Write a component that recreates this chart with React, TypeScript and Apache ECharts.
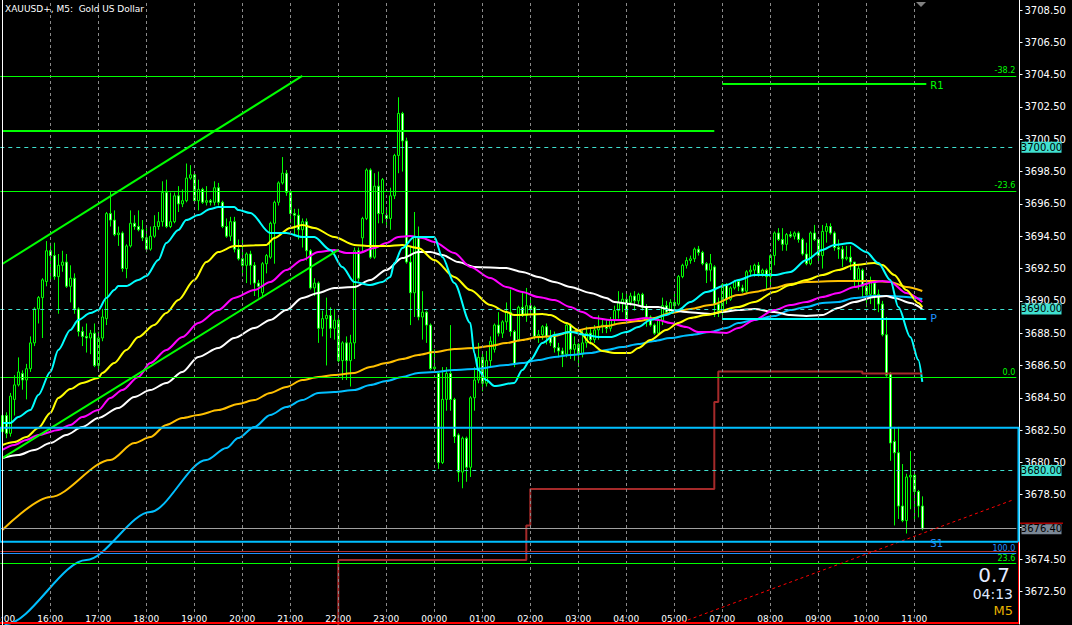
import React, { useEffect, useRef } from 'react';
import * as echarts from 'echarts';

// ---------- time axis ----------
const HOUR_LABELS = ['15:00','16:00','17:00','18:00','19:00','20:00','21:00','22:00','23:00','00:00','01:00','02:00','03:00','04:00','05:00','07:00','08:00','09:00','10:00','11:00'];
const BARS_PER_HOUR = 12;
const SLOT_COUNT = 254;

// ---------- candles (M5) ----------
const OPEN = [3682.4,3683.4,3682.3,3684.4,3685.3,3686.0,3685.6,3686.3,3687.9,3690.0,
3690.7,3691.7,3693.6,3693.3,3692.0,3692.7,3692.9,3691.4,3691.9,3690.0,
3688.6,3688.3,3688.2,3688.5,3686.5,3688.2,3689.4,3695.9,3695.5,3694.6,
3694.7,3692.5,3693.9,3695.3,3695.1,3694.9,3694.4,3693.7,3694.5,3695.1,
3695.4,3697.2,3695.1,3695.4,3697.0,3696.5,3696.7,3698.1,3698.3,3696.7,
3697.4,3696.6,3696.7,3696.6,3697.5,3696.6,3695.1,3694.5,3695.4,3693.7,
3693.1,3692.7,3693.4,3692.7,3691.6,3691.0,3692.8,3693.2,3695.3,3696.6,
3697.8,3698.4,3697.2,3695.9,3695.8,3694.9,3695.4,3693.6,3691.3,3691.6,
3688.8,3689.4,3689.6,3688.8,3689.3,3686.8,3687.9,3686.8,3687.9,3693.6,
3694.4,3695.6,3698.6,3693.2,3697.6,3695.9,3695.8,3695.6,3697.0,3699.5,
3702.1,3700.4,3692.9,3691.0,3694.4,3689.5,3689.8,3689.0,3686.3,3686.0,
3680.5,3684.4,3686.0,3684.4,3682.2,3679.9,3682.0,3680.2,3684.5,3685.6,
3687.0,3685.4,3686.8,3687.5,3689.0,3688.5,3689.2,3689.8,3688.6,3688.1,
3690.1,3689.6,3690.2,3690.1,3688.3,3688.4,3688.9,3688.3,3688.4,3687.6,
3687.4,3687.2,3689.0,3687.5,3687.8,3687.2,3687.9,3688.5,3688.1,3688.7,
3688.9,3689.0,3688.8,3689.3,3689.9,3690.4,3690.6,3690.4,3690.8,3690.5,
3690.9,3690.1,3689.5,3689.0,3688.5,3689.3,3690.2,3689.8,3690.4,3690.3,
3692.0,3692.7,3693.0,3693.1,3693.7,3693.5,3692.8,3692.4,3692.6,3690.3,
3689.9,3691.5,3690.6,3691.3,3691.7,3691.3,3691.1,3692.3,3692.4,3692.7,
3692.2,3692.4,3692.0,3693.3,3694.7,3694.3,3694.0,3694.6,3694.5,3694.7,
3694.3,3693.4,3692.8,3694.7,3694.3,3693.3,3694.8,3695.1,3694.7,3693.8,
3693.7,3693.1,3693.2,3692.9,3691.8,3692.4,3691.4,3690.9,3691.6,3690.9,
3690.3,3688.4,3686.0,3681.8,3681.1,3677.8,3676.9,3679.6,3679.7,3678.7,
3677.8];
const HIGH = [3683.6,3683.6,3684.8,3685.9,3687.0,3686.2,3686.6,3688.3,3690.1,3690.8,
3691.9,3694.2,3694.1,3694.1,3693.4,3693.6,3693.4,3692.7,3692.2,3690.1,
3688.9,3689.1,3688.7,3689.1,3688.6,3690.0,3696.0,3697.3,3696.1,3695.1,
3694.8,3694.0,3696.1,3695.8,3696.1,3695.5,3695.0,3695.1,3695.8,3696.0,
3697.9,3698.0,3697.2,3697.2,3697.6,3697.4,3699.0,3698.9,3698.4,3698.0,
3697.5,3697.6,3696.8,3697.9,3697.8,3696.7,3695.6,3695.7,3695.7,3694.3,
3694.4,3693.5,3693.6,3692.9,3691.8,3692.9,3693.4,3695.4,3696.7,3697.9,
3699.4,3698.6,3697.4,3696.2,3696.2,3695.6,3695.6,3693.7,3691.9,3691.7,
3689.9,3690.7,3690.1,3690.0,3689.5,3688.0,3688.3,3688.4,3693.8,3693.8,
3695.7,3698.7,3698.7,3698.4,3698.5,3698.1,3696.3,3697.5,3699.6,3703.1,
3702.2,3700.6,3693.9,3696.0,3695.1,3691.1,3689.9,3689.1,3687.5,3686.1,
3686.4,3686.4,3689.0,3684.5,3682.3,3682.1,3682.1,3684.6,3686.4,3687.9,
3687.3,3687.4,3688.3,3689.1,3689.8,3689.3,3690.4,3691.2,3688.7,3690.2,
3691.0,3691.3,3690.6,3690.2,3688.7,3689.0,3689.1,3688.7,3688.6,3687.9,
3687.6,3689.1,3689.1,3688.3,3687.9,3688.7,3688.9,3688.8,3689.0,3689.6,
3689.4,3689.3,3689.5,3690.2,3691.1,3691.0,3691.1,3691.0,3691.1,3691.0,
3691.0,3690.3,3689.6,3689.1,3689.4,3690.7,3690.5,3690.6,3691.1,3692.1,
3692.8,3693.2,3693.3,3693.8,3693.9,3693.6,3692.9,3693.4,3692.7,3690.7,
3691.6,3691.6,3691.4,3691.8,3691.8,3691.5,3692.4,3692.7,3692.8,3692.9,
3692.5,3692.5,3693.4,3694.8,3695.0,3695.0,3694.7,3694.8,3694.8,3694.8,
3694.4,3694.1,3694.8,3695.2,3694.4,3695.2,3695.3,3695.3,3694.8,3694.3,
3693.9,3693.9,3693.9,3692.9,3692.7,3692.5,3691.7,3692.0,3691.7,3691.2,
3690.5,3689.5,3686.1,3682.7,3682.7,3680.4,3679.8,3681.2,3680.0,3678.8,
3678.4];
const LOW = [3681.8,3682.0,3682.1,3683.4,3685.2,3685.0,3684.4,3686.1,3687.7,3689.1,
3688.2,3691.4,3691.8,3691.8,3689.7,3692.3,3691.3,3690.4,3689.7,3688.3,
3687.7,3687.3,3687.2,3686.4,3686.1,3688.0,3689.0,3695.1,3694.5,3693.9,
3692.3,3691.9,3693.8,3694.9,3694.8,3694.2,3693.5,3693.6,3694.4,3694.9,
3695.1,3695.0,3695.0,3695.3,3696.0,3696.3,3696.6,3698.0,3696.5,3696.1,
3696.5,3696.4,3696.4,3696.4,3696.4,3695.0,3694.4,3694.2,3693.5,3693.0,
3692.0,3691.6,3691.5,3690.8,3690.7,3690.7,3692.2,3693.1,3692.8,3696.4,
3697.7,3697.0,3695.3,3694.5,3694.3,3693.8,3693.0,3691.2,3690.8,3687.9,
3688.3,3686.5,3688.2,3688.1,3686.7,3685.6,3685.6,3685.2,3686.9,3691.7,
3693.5,3695.5,3693.1,3693.1,3695.3,3695.3,3695.2,3694.9,3696.8,3698.4,
3698.5,3692.8,3689.0,3689.5,3689.3,3688.1,3687.9,3686.2,3686.1,3680.1,
3680.4,3683.7,3683.7,3681.7,3679.3,3678.9,3679.3,3679.6,3683.7,3685.4,
3684.9,3685.2,3686.4,3687.3,3688.3,3688.2,3688.7,3688.3,3686.4,3688.0,
3689.5,3689.2,3689.7,3688.1,3687.9,3688.1,3687.8,3687.7,3687.3,3687.0,
3686.4,3687.0,3686.9,3686.8,3686.4,3687.0,3687.6,3687.8,3687.9,3688.1,
3688.5,3688.5,3688.6,3689.0,3689.4,3689.8,3689.2,3690.2,3689.9,3690.3,
3689.9,3688.9,3688.9,3688.4,3688.4,3689.0,3689.6,3689.7,3689.8,3690.2,
3691.9,3692.5,3692.8,3692.9,3693.3,3692.7,3691.6,3691.7,3689.5,3689.5,
3689.3,3690.3,3690.5,3691.2,3691.1,3691.0,3691.0,3692.0,3692.0,3692.0,
3692.0,3691.2,3691.4,3692.7,3694.2,3693.6,3693.6,3694.4,3694.3,3694.1,
3693.3,3692.7,3692.7,3694.2,3692.9,3692.5,3694.1,3694.6,3693.6,3693.1,
3692.6,3693.0,3692.4,3691.4,3691.2,3690.7,3690.1,3690.3,3689.9,3689.8,
3688.3,3685.8,3680.6,3676.6,3677.0,3676.8,3676.1,3677.6,3676.9,3677.1,
3676.3];
const CLOSE = [3683.4,3682.3,3684.6,3685.3,3686.1,3685.6,3686.3,3687.9,3690.0,3690.7,
3691.8,3693.6,3693.3,3692.0,3692.7,3692.9,3691.4,3691.9,3690.0,3688.6,
3688.3,3688.2,3688.5,3686.5,3688.2,3689.5,3695.9,3695.5,3694.6,3694.7,
3692.5,3693.9,3695.3,3695.1,3694.9,3694.4,3693.7,3694.5,3695.1,3695.4,
3697.2,3695.1,3695.4,3697.0,3696.5,3696.7,3698.1,3698.3,3696.7,3697.4,
3696.6,3696.7,3696.6,3697.5,3696.6,3695.1,3694.5,3695.4,3693.7,3693.1,
3692.7,3693.4,3692.7,3691.6,3691.4,3692.8,3693.3,3695.3,3696.6,3697.8,
3698.4,3697.2,3695.9,3695.8,3694.9,3695.4,3693.6,3691.3,3691.6,3688.8,
3689.4,3689.6,3688.8,3689.3,3686.8,3687.9,3686.8,3687.9,3693.6,3691.9,
3695.6,3698.6,3693.2,3697.6,3695.9,3698.0,3695.6,3697.0,3699.5,3702.1,
3700.4,3692.9,3691.0,3694.5,3689.5,3689.8,3689.0,3686.3,3686.4,3680.5,
3684.4,3686.0,3684.4,3682.1,3679.9,3682.0,3680.2,3684.5,3685.6,3687.0,
3685.4,3686.8,3688.0,3689.0,3688.5,3689.2,3689.8,3688.6,3686.6,3690.1,
3689.6,3690.2,3690.0,3688.3,3688.4,3688.9,3688.3,3687.9,3687.6,3687.4,
3687.2,3689.0,3687.5,3687.8,3687.2,3687.9,3688.5,3688.1,3688.7,3688.9,
3689.0,3688.8,3689.3,3689.9,3690.4,3690.6,3689.3,3690.8,3690.5,3690.9,
3690.1,3689.5,3689.0,3688.5,3689.3,3690.2,3689.8,3690.4,3690.2,3692.0,
3692.7,3693.0,3693.1,3693.7,3693.5,3692.8,3692.4,3692.8,3690.3,3689.9,
3691.5,3690.6,3691.3,3691.7,3691.4,3691.1,3692.3,3692.4,3692.7,3692.2,
3692.4,3692.0,3693.3,3694.7,3694.3,3694.0,3694.6,3694.5,3694.7,3694.3,
3693.4,3692.8,3694.7,3694.3,3693.3,3694.8,3695.1,3694.7,3693.8,3693.7,
3693.1,3693.2,3692.9,3691.8,3692.5,3691.4,3690.9,3691.7,3690.9,3690.3,
3688.4,3685.9,3681.7,3681.1,3677.8,3676.9,3679.6,3679.7,3678.7,3677.8,
3676.4];

// ---------- moving averages: [bar index, price] ----------
const MA_AQUA = [[0,3682.94],[2,3682.94],[4,3683.31],[7,3683.74],[9,3684.67],[12,3686.10],[14,3687.46],[17,3688.70],[19,3689.32],[22,3689.75],[24,3689.93],[26,3690.68],[28,3691.17],[29,3691.42],[31,3691.42],[34,3691.79],[36,3692.04],[39,3693.03],[41,3694.08],[44,3694.88],[46,3695.50],[49,3695.81],[52,3696.19],[54,3696.31],[58,3696.31],[59,3696.12],[62,3695.94],[67,3694.70],[71,3694.70],[75,3694.45],[78,3694.45],[82,3693.65],[85,3692.60],[88,3691.67],[92,3691.48],[95,3691.67],[97,3691.98],[98,3692.84],[100,3693.77],[103,3694.45],[108,3694.45],[110,3693.21],[113,3691.60],[117,3689.13],[118,3687.27],[119,3686.22],[121,3685.60],[123,3685.23],[128,3685.42],[130,3686.22],[132,3686.84],[135,3687.89],[138,3688.39],[142,3688.57],[146,3688.39],[149,3688.26],[152,3688.26],[156,3688.57],[159,3688.88],[162,3689.32],[166,3689.63],[169,3689.93],[172,3690.43],[176,3691.05],[181,3691.48],[184,3691.79],[188,3692.10],[193,3692.10],[197,3692.29],[201,3693.03],[205,3693.65],[208,3693.96],[212,3694.08],[216,3693.52],[219,3692.84],[222,3691.79],[224,3690.12],[227,3688.26],[229,3686.84],[230,3685.48]];
const MA_YELLOW = [[0,3681.58],[3,3681.76],[6,3682.07],[9,3682.63],[12,3683.56],[14,3684.49],[17,3685.04],[20,3685.42],[24,3685.73],[25,3686.04],[28,3686.65],[31,3687.46],[34,3688.26],[38,3689.01],[41,3689.75],[44,3690.55],[48,3691.79],[51,3692.90],[54,3693.52],[58,3693.89],[66,3693.96],[68,3694.39],[72,3695.01],[75,3695.19],[78,3695.01],[83,3694.45],[88,3693.96],[92,3693.89],[96,3693.89],[100,3693.96],[104,3693.77],[108,3693.03],[113,3691.98],[117,3691.17],[122,3690.24],[126,3689.81],[128,3689.62],[135,3689.69],[137,3689.62],[141,3689.13],[144,3688.70],[147,3687.89],[150,3687.40],[153,3687.27],[157,3687.27],[159,3687.58],[162,3688.08],[166,3688.70],[169,3689.13],[172,3689.44],[176,3689.62],[184,3690.12],[188,3690.43],[193,3691.05],[197,3691.48],[201,3691.79],[205,3692.10],[209,3692.41],[213,3692.72],[218,3692.84],[220,3692.72],[223,3692.10],[226,3691.17],[229,3690.37],[230,3690.12]];
const MA_MAGENTA = [[0,3681.27],[3,3681.58],[6,3681.89],[9,3682.20],[14,3682.51],[17,3682.82],[20,3683.31],[24,3683.74],[27,3684.49],[30,3684.98],[34,3685.79],[37,3686.65],[41,3687.46],[45,3688.26],[49,3689.13],[54,3689.93],[58,3690.68],[63,3691.17],[67,3691.67],[71,3692.41],[75,3693.03],[79,3693.52],[83,3693.65],[86,3693.46],[89,3693.46],[93,3693.77],[96,3694.08],[99,3694.45],[102,3694.51],[105,3694.39],[108,3694.14],[113,3693.46],[117,3692.60],[122,3691.91],[126,3691.36],[130,3691.05],[134,3690.74],[138,3690.55],[142,3690.12],[145,3689.81],[148,3689.44],[152,3689.32],[157,3689.32],[161,3689.44],[164,3689.32],[167,3689.13],[171,3688.88],[174,3688.57],[177,3688.57],[181,3688.51],[184,3688.82],[188,3689.32],[193,3689.93],[197,3690.24],[201,3690.43],[205,3690.74],[209,3690.99],[213,3691.36],[218,3691.67],[220,3691.73],[222,3691.67],[226,3690.99],[230,3690.43]];
const MA_WHITE = [[0,3680.77],[4,3680.96],[8,3681.27],[12,3681.70],[16,3682.20],[20,3682.69],[24,3683.25],[29,3683.87],[33,3684.55],[37,3684.98],[41,3685.42],[45,3686.10],[49,3687.03],[54,3687.58],[58,3688.20],[63,3688.82],[67,3689.32],[71,3689.93],[75,3690.68],[79,3690.99],[83,3691.30],[88,3691.36],[92,3691.79],[96,3692.41],[100,3693.15],[104,3693.52],[107,3693.52],[110,3693.34],[114,3692.90],[118,3692.60],[126,3692.53],[130,3692.29],[134,3691.98],[138,3691.67],[142,3691.36],[147,3690.99],[151,3690.68],[153,3690.43],[157,3690.31],[161,3690.12],[164,3690.12],[167,3689.93],[171,3689.81],[174,3689.75],[177,3689.69],[180,3689.81],[184,3689.93],[188,3690.00],[193,3689.81],[197,3689.62],[201,3689.56],[205,3689.62],[209,3690.06],[213,3690.43],[218,3690.74],[221,3690.80],[223,3690.68],[227,3690.37],[230,3690.00]];
const MA_GOLD = [[0,3676.32],[12,3678.36],[27,3680.65],[33,3681.70],[37,3682.07],[41,3682.82],[45,3683.25],[49,3683.44],[54,3683.74],[59,3684.12],[63,3684.36],[67,3684.80],[71,3685.17],[75,3685.60],[79,3685.79],[83,3685.91],[88,3686.04],[92,3686.41],[96,3686.65],[100,3686.90],[104,3687.15],[108,3687.33],[113,3687.52],[118,3687.58],[122,3687.71],[126,3687.89],[130,3688.08],[134,3688.26],[138,3688.33],[142,3688.57],[147,3688.82],[151,3688.94],[155,3689.13],[159,3689.25],[163,3689.44],[167,3689.75],[172,3690.00],[177,3690.24],[184,3690.86],[188,3691.05],[193,3691.30],[197,3691.54],[201,3691.67],[209,3691.73],[218,3691.73],[222,3691.67],[226,3691.36],[230,3691.11]];
const MA_SKY = [[0,3670.00],[1,3670.50],[21,3674.46],[37,3677.43],[51,3680.65],[56,3681.39],[59,3682.01],[63,3682.69],[67,3683.44],[71,3683.93],[75,3684.36],[79,3684.80],[83,3684.86],[88,3684.98],[92,3685.29],[96,3685.54],[100,3685.79],[104,3686.04],[108,3686.10],[113,3686.22],[118,3686.28],[126,3686.53],[130,3686.65],[134,3686.84],[138,3687.03],[142,3687.15],[147,3687.27],[151,3687.46],[155,3687.64],[159,3687.83],[163,3688.02],[167,3688.20],[172,3688.39],[177,3688.57],[181,3688.82],[184,3689.13],[188,3689.32],[193,3689.56],[197,3689.93],[201,3690.12],[205,3690.37],[209,3690.43],[213,3690.68],[218,3690.80],[222,3690.80],[226,3690.74],[230,3690.61]];

// ---------- stepped daily level ----------
const DAY_STEP = [[84,3669.5],[84,3674.46],[131,3674.46],[131,3676.6],[132,3676.6],[132,3678.86],[178,3678.86],[178,3684.24],[179,3684.24],[179,3686.12],[215,3686.12],[215,3686.0],[230,3686.0]];

// ---------- levels ----------
const FIB_GREEN = [{ v: 3704.42, t: '-38.2' }, { v: 3697.30, t: '-23.6' }, { v: 3685.77, t: '0.0' }, { v: 3674.26, t: '23.6' }];
const FIB_BLUE = [{ v: 3674.88, t: '100.0' }];
const ROUND_LEVELS = [3700, 3690, 3680];
const BID = 3676.40;
const HIDDEN_TICK = 3676.5;
const BROWN_LEVEL = 3675.02;
const BOX_TOP = 3682.65;
const BOX_BOTTOM = 3675.59;
const GREEN_TOP = 3701.01;
const R1 = 3703.92;
const PIVOT = 3689.38;
const CHANNEL_UP = [[0, 3692.78], [75, 3704.42]];
const CHANNEL_LOW = [[0, 3680.77], [84, 3693.65]];
const RED_TREND = [[170, 3670.62], [253, 3678.21]];

const FONT = '"DejaVu Sans"';

function buildCategories(): string[] {
  const out: string[] = [];
  HOUR_LABELS.forEach((h) => {
    const hh = h.slice(0, 2);
    for (let m = 0; m < BARS_PER_HOUR; m++) out.push(hh + ':' + String(m * 5).padStart(2, '0'));
  });
  while (out.length < SLOT_COUNT) out.push('');
  return out;
}

export default function App() {
  const ref = useRef<HTMLDivElement>(null);
  useEffect(() => {
    if (!ref.current) return;
    const chart = echarts.init(ref.current, null, { renderer: 'svg' });
    const categories = buildCategories();
    const candles = OPEN.map((o, i) => [o, CLOSE[i], LOW[i], HIGH[i]]);
    const hourIdx: number[] = [];
    for (let i = 0; i < HOUR_LABELS.length; i++) hourIdx.push(i * BARS_PER_HOUR);

    const ma = (data: number[][], color: string) => ({
      type: 'line', data, showSymbol: false, symbol: 'none', smooth: 0.3, smoothMonotone: 'x',
      lineStyle: { color, width: 2 }, z: 3, silent: true,
    });
    const fibLabel = (t: string, color: string) => ({
      show: true, position: 'insideEndTop', formatter: t, color, fontSize: 8, fontFamily: FONT, distance: [1, 1],
    });
    const seg = (a: number[], b: number[], color: string, width: number, type: any = 'solid') => ([
      { coord: a, lineStyle: { color, width, type }, label: { show: false } },
      { coord: b },
    ]);

    const option: any = {
      animation: false,
      backgroundColor: '#000000',
      textStyle: { fontFamily: FONT },
      grid: { left: 0.3, top: -22.3, width: 1016, height: 646.3, containLabel: false, outerBoundsMode: 'none' },
      xAxis: {
        type: 'category', data: categories, boundaryGap: true,
        axisLine: { show: false }, axisTick: { show: false }, splitLine: { show: false },
        axisLabel: {
          inside: true, margin: 1, color: '#ffffff', fontSize: 9, fontFamily: FONT,
          interval: (i: number) => i % BARS_PER_HOUR === 0 && categories[i] !== '',
        },
      },
      yAxis: {
        type: 'value', position: 'right', min: 3670.5, max: 3710.5, interval: 2, offset: 3.2,
        axisLine: { show: true, lineStyle: { color: '#ffffff', width: 1 } },
        axisTick: { show: true, length: 3, lineStyle: { color: '#ffffff' } },
        axisLabel: {
          color: '#ffffff', fontSize: 10, fontFamily: FONT, margin: 5,
          formatter: (v: number) => (Math.abs(v - HIDDEN_TICK) < 0.01 ? '' : v.toFixed(2)),
          showMinLabel: false, showMaxLabel: false,
        },
        splitLine: { show: false },
      },
      series: [
        {
          type: 'line', data: [], z: 1, silent: true,
          markLine: {
            silent: true, symbol: ['none', 'none'], animation: false, label: { show: false },
            lineStyle: { color: '#8a8a8a', type: [3, 3], width: 1 },
            data: hourIdx.map((i) => ({ xAxis: i })),
          },
        },
        {
          type: 'candlestick', data: candles, barWidth: 3, z: 2, silent: true,
          itemStyle: {
            color: '#000000', color0: '#ffffff', borderColor: '#00ff00', borderColor0: '#00ff00',
            borderColorDoji: '#00ff00', borderWidth: 1,
          },
        },
        ma(MA_SKY, '#00bfff'),
        ma(MA_GOLD, '#ffc000'),
        ma(MA_WHITE, '#ffffff'),
        ma(MA_MAGENTA, '#ff00ff'),
        ma(MA_YELLOW, '#ffff00'),
        ma(MA_AQUA, '#00ffff'),
        {
          type: 'line', data: DAY_STEP, showSymbol: false, symbol: 'none', z: 4, silent: true,
          lineStyle: { color: '#a52a2a', width: 2 },
        },
        {
          type: 'line', data: [], z: 5, silent: true,
          markLine: {
            silent: true, symbol: ['none', 'none'], animation: false, label: { show: false },
            data: [
              ...FIB_GREEN.map((f) => ({ yAxis: f.v, lineStyle: { color: '#00ff00', width: 1, type: 'solid' }, label: fibLabel(f.t, '#00ff00') })),
              ...FIB_BLUE.map((f) => ({ yAxis: f.v, lineStyle: { color: '#1e90ff', width: 1, type: 'solid' }, label: fibLabel(f.t, '#1e90ff') })),
              ...ROUND_LEVELS.map((v) => ({ yAxis: v, lineStyle: { color: '#40e0d0', width: 1, type: [4, 4] }, label: { show: false } })),
              { yAxis: BID, lineStyle: { color: '#a0a0a0', width: 1, type: 'solid' }, label: { show: false } },
              { yAxis: BROWN_LEVEL, lineStyle: { color: '#b03030', width: 1, type: 'solid' }, label: { show: false } },
              seg([0, GREEN_TOP], [178, GREEN_TOP], '#00ff00', 2),
              seg([180, R1], [231, R1], '#00ff00', 2),
              seg([180, PIVOT], [231, PIVOT], '#00ffff', 2),
              seg(CHANNEL_UP[0], CHANNEL_UP[1], '#00ff00', 2),
              seg(CHANNEL_LOW[0], CHANNEL_LOW[1], '#00ff00', 2),
              seg(RED_TREND[0], RED_TREND[1], '#ff0000', 1, [3, 3]),
            ],
          },
        },
      ],
    };
    chart.setOption(option);

    const py = (p: number) => chart.convertToPixel({ yAxisIndex: 0 } as any, p) as unknown as number;
    const px = (i: number) => chart.convertToPixel({ xAxisIndex: 0 } as any, i) as unknown as number;
    const txt = (x: number, y: number, text: string, color: string, size: number, align = 'left', z = 100) => ({
      type: 'text', x, y, z, silent: true,
      style: { text, fill: color, font: `${size}px ${FONT}`, align, verticalAlign: 'middle', textAlign: align, textVerticalAlign: 'middle' },
    });
    const graphics: any[] = [];
    const yTop = py(BOX_TOP), yBot = py(BOX_BOTTOM);
    graphics.push({ type: 'rect', z: 50, silent: true, shape: { x: 0, y: yTop, width: 1018.5, height: yBot - yTop }, style: { fill: 'none', stroke: '#00bfff', lineWidth: 2 } });
    graphics.push({ type: 'line', z: 50, silent: true, shape: { x1: 0, y1: 623, x2: 1018.5, y2: 623 }, style: { stroke: '#ff0000', lineWidth: 2 } });
    graphics.push({ type: 'line', z: 50, silent: true, shape: { x1: 1018.5, y1: yBot, x2: 1018.5, y2: 624 }, style: { stroke: '#ff0000', lineWidth: 1 } });
    graphics.push({ type: 'line', z: 60, silent: true, shape: { x1: 2.5, y1: 0, x2: 2.5, y2: 625 }, style: { stroke: '#ffffff', lineWidth: 1 } });
    graphics.push(txt(5, 9, 'XAUUSD+, M5:  Gold US Dollar', '#ffffff', 9));
    ROUND_LEVELS.forEach((v) => {
      const y = py(v);
      graphics.push({ type: 'rect', z: 100, silent: true, shape: { x: 1021.5, y: y - 5.5, width: 40, height: 11 }, style: { fill: '#40e0d0' } });
      graphics.push(txt(1041.5, y, v.toFixed(2), '#000000', 10, 'center', 101));
    });
    const yb = py(BID);
    graphics.push({ type: 'rect', z: 100, silent: true, shape: { x: 1021.5, y: yb - 4.5, width: 40, height: 10 }, style: { fill: '#7b8896' } });
    graphics.push({ type: 'line', z: 100, silent: true, shape: { x1: 1020, y1: yb - 5.5, x2: 1063, y2: yb - 5.5 }, style: { stroke: '#ff0000', lineWidth: 1 } });
    graphics.push(txt(1041.5, yb, BID.toFixed(2), '#000000', 10, 'center', 101));
    graphics.push(txt(px(231) + 4, py(R1) + 1, 'R1', '#00ff00', 10));
    graphics.push(txt(px(231) + 4, py(PIVOT), 'P', '#1e90ff', 11));
    graphics.push(txt(px(231) + 4, yBot + 2, 'S1', '#1e90ff', 10));
    graphics.push({ type: 'polygon', z: 100, silent: true, shape: { points: [[916, 2], [926, 2], [921, 7]] }, style: { fill: '#808080' } });
    graphics.push(txt(1010, 575, '0.7', '#e4eaff', 20, 'right'));
    graphics.push(txt(1013, 594, '04:13', '#dfe8ff', 14, 'right'));
    graphics.push(txt(1013, 610.5, 'M5', '#e8b400', 13, 'right'));
    chart.setOption({ graphic: graphics });

    return () => chart.dispose();
  }, []);
  return <div ref={ref} style={{ position: 'absolute', left: 0, top: 0, width: 1072, height: 625 }} />;
}
